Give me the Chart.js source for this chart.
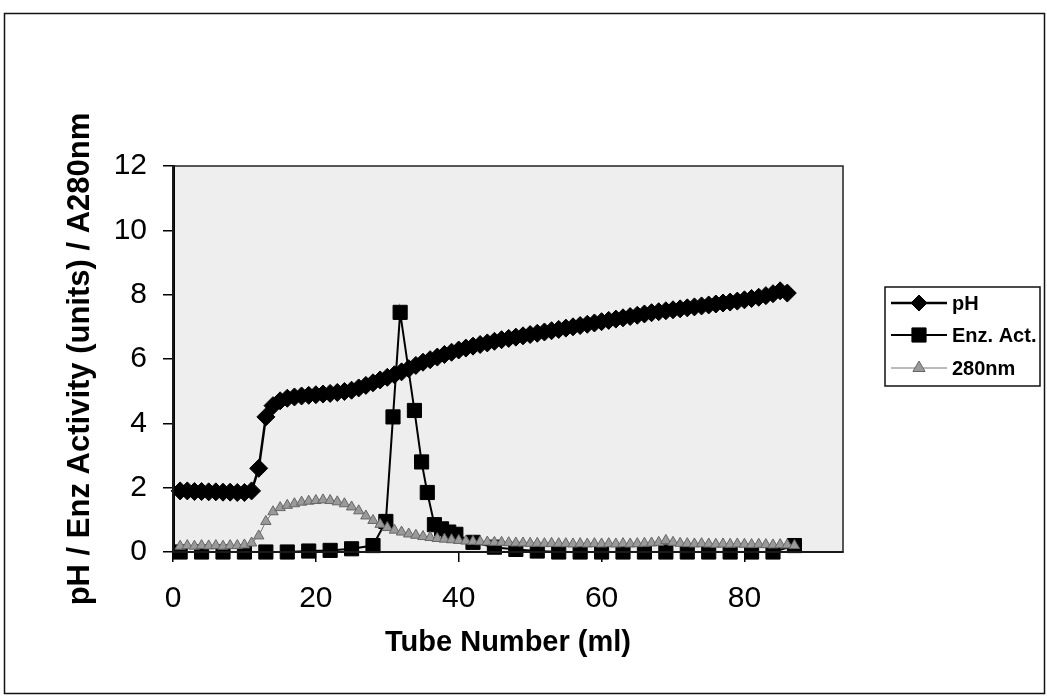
<!DOCTYPE html>
<html>
<head>
<meta charset="utf-8">
<script src="https://cdn.jsdelivr.net/npm/chart.js@4.4.1/dist/chart.umd.min.js"></script>
<style>
  html, body { margin: 0; padding: 0; background: #fff; }
  #wrap { width: 1047px; height: 696px; }
</style>
</head>
<body>
<div id="wrap"><canvas id="fractionChart" width="1047" height="696"></canvas></div>
<script>
// tube numbers and readings
var phTubes = [1,2,3,4,5,6,7,8,9,10,11,12,13,14,15,16,17,18,19,20,21,22,23,24,25,26,27,28,29,30,
  31,32,33,34,35,36,37,38,39,40,41,42,43,44,45,46,47,48,49,50,51,52,53,54,55,56,57,58,59,60,
  61,62,63,64,65,66,67,68,69,70,71,72,73,74,75,76,77,78,79,80,81,82,83,84,85,86];
var phValues = [1.9,1.9,1.88,1.88,1.87,1.87,1.86,1.86,1.85,1.85,1.9,2.6,4.2,4.55,4.7,4.78,4.82,4.85,4.87,4.89,
  4.91,4.93,4.96,4.99,5.03,5.1,5.18,5.26,5.35,5.43,5.51,5.6,5.7,5.8,5.9,5.98,6.06,6.14,6.21,6.28,
  6.34,6.4,6.45,6.5,6.55,6.6,6.64,6.68,6.72,6.76,6.8,6.84,6.88,6.92,6.96,7.0,7.04,7.08,7.12,7.16,
  7.2,7.24,7.28,7.32,7.36,7.4,7.44,7.47,7.5,7.53,7.56,7.59,7.62,7.65,7.68,7.71,7.74,7.77,7.8,7.84,
  7.88,7.92,7.97,8.03,8.12,8.05];

var enzTubes = [1,4,7,10,13,16,19,22,25,28,29.8,30.8,31.8,33.8,34.8,35.6,36.6,37.6,38.6,39.6,
  42,45,48,51,54,57,60,63,66,69,72,75,78,81,84,87];
var enzValues = [0,0,0,0,0,0,0.03,0.05,0.1,0.2,0.95,4.2,7.45,4.4,2.8,1.85,0.85,0.72,0.62,0.55,
  0.3,0.15,0.08,0.03,0,0,0,0,0,0,0,0,0,0,0,0.2];

var a280Tubes = [1,2,3,4,5,6,7,8,9,10,11,12,13,14,15,16,17,18,19,20,21,22,23,24,25,26,27,28,29,30,
  31,32,33,34,35,36,37,38,39,40,41,42,43,44,45,46,47,48,49,50,51,52,53,54,55,56,57,58,59,60,
  61,62,63,64,65,66,67,68,69,70,71,72,73,74,75,76,77,78,79,80,81,82,83,84,85,86,87];
var a280Values = [0.18,0.2,0.18,0.2,0.19,0.2,0.18,0.2,0.2,0.22,0.28,0.5,0.95,1.25,1.38,1.45,1.5,1.55,1.58,1.6,
  1.62,1.6,1.56,1.5,1.4,1.28,1.12,0.98,0.86,0.76,0.68,0.62,0.56,0.52,0.48,0.45,0.42,0.4,0.38,0.36,
  0.34,0.33,0.32,0.31,0.3,0.3,0.29,0.28,0.28,0.27,0.27,0.26,0.27,0.26,0.26,0.25,0.26,0.25,0.26,0.25,
  0.26,0.25,0.26,0.25,0.26,0.27,0.28,0.3,0.36,0.3,0.27,0.26,0.25,0.26,0.25,0.24,0.25,0.24,0.25,0.24,
  0.23,0.24,0.23,0.22,0.23,0.22,0.2];

var xTicks = [0, 20, 40, 60, 80];
var yTicks = [0, 2, 4, 6, 8, 10, 12];
var seriesNames = ['pH', 'Enz. Act.', '280nm'];

var fontFam = '"Liberation Sans", Arial, sans-serif';

function pairs(xs, ys) {
  return xs.map(function (x, i) { return { x: x, y: ys[i] }; });
}

function drawMarker(ctx, style, x, y, r, fill, stroke) {
  ctx.beginPath();
  if (style === 'rectRot') {
    ctx.moveTo(x - r, y); ctx.lineTo(x, y - r); ctx.lineTo(x + r, y); ctx.lineTo(x, y + r);
  } else if (style === 'rect') {
    var s = r * Math.SQRT1_2;
    ctx.rect(x - s, y - s, 2 * s, 2 * s);
  } else {
    ctx.moveTo(x, y - r); ctx.lineTo(x + r * 0.87, y + r * 0.5); ctx.lineTo(x - r * 0.87, y + r * 0.5);
  }
  ctx.closePath();
  ctx.fillStyle = fill; ctx.fill();
  ctx.lineWidth = 1; ctx.strokeStyle = stroke; ctx.stroke();
}

// plot background, frames and the legend box
var framePlugin = {
  id: 'frame',
  beforeDraw: function (chart) {
    var c = chart.ctx, a = chart.chartArea;
    c.save();
    c.fillStyle = '#fff';
    c.fillRect(0, 0, chart.width, chart.height);
    c.fillStyle = '#eeeeee';
    c.fillRect(a.left, a.top, a.right - a.left, a.bottom - a.top);
    c.restore();
  },
  afterDatasetsDraw: function (chart) {
    var c = chart.ctx, a = chart.chartArea;
    c.save();
    c.strokeStyle = '#222';
    c.lineWidth = 1.5;
    c.strokeRect(a.left, a.top, a.right - a.left, a.bottom - a.top);
    c.strokeStyle = '#111';
    c.strokeRect(4.5, 13.5, 1040, 680);
    c.restore();
  },
  afterDraw: function (chart) {
    var c = chart.ctx;
    var bx = 885, by = 287, bw = 155, bh = 99;
    var rows = [303, 335, 368];
    var styles = [['rectRot', 8, '#000', '#000', '#000', 2.5],
                  ['rect', 10, '#000', '#000', '#000', 2],
                  ['triangle', 7, '#9a9a9a', '#666', '#777', 1]];
    c.save();
    c.fillStyle = '#fff';
    c.fillRect(bx, by, bw, bh);
    c.strokeStyle = '#111';
    c.lineWidth = 1.5;
    c.strokeRect(bx, by, bw, bh);
    for (var i = 0; i < seriesNames.length; i++) {
      var st = styles[i];
      c.beginPath();
      c.moveTo(891, rows[i]); c.lineTo(947, rows[i]);
      c.strokeStyle = st[4]; c.lineWidth = st[5]; c.stroke();
      drawMarker(c, st[0], 919, rows[i], st[1], st[2], st[3]);
      c.fillStyle = '#000';
      c.font = 'bold 20px ' + fontFam;
      c.textBaseline = 'middle';
      c.fillText(seriesNames[i], 952, rows[i] + 1);
    }
    c.restore();
  }
};

var ctx = document.getElementById('fractionChart').getContext('2d');
var fractionChart = new Chart(ctx, {
  type: 'line',
  data: {
    datasets: [{
      label: seriesNames[0],
      data: pairs(phTubes, phValues),
      borderColor: '#000',
      backgroundColor: '#000',
      borderWidth: 2.5,
      pointStyle: 'rectRot',
      pointRadius: 9,
      pointBorderWidth: 1,
      clip: false,
      order: 1
    }, {
      label: seriesNames[1],
      data: pairs(enzTubes, enzValues),
      borderColor: '#000',
      backgroundColor: '#000',
      borderWidth: 2,
      pointStyle: 'rect',
      pointRadius: 10,
      pointBorderWidth: 1,
      clip: false,
      order: 3
    }, {
      label: seriesNames[2],
      data: pairs(a280Tubes, a280Values),
      borderColor: '#777',
      backgroundColor: '#9a9a9a',
      pointBorderColor: '#666',
      borderWidth: 1,
      pointStyle: 'triangle',
      pointRadius: 6,
      pointBorderWidth: 1,
      clip: false,
      order: 2
    }]
  },
  options: {
    responsive: false,
    animation: false,
    devicePixelRatio: 1,
    layout: { padding: { left: 10, right: 204, top: 166, bottom: 0 } },
    plugins: {
      legend: { display: false },
      tooltip: { enabled: false },
      title: { display: false }
    },
    scales: {
      x: {
        type: 'linear',
        min: 0,
        max: 93.8,
        afterBuildTicks: function (scale) {
          scale.ticks = xTicks.map(function (v) { return { value: v }; });
        },
        afterFit: function (scale) { scale.height = 144; },
        grid: { drawOnChartArea: false, drawTicks: true, tickLength: 10, color: '#000', lineWidth: 1.5 },
        border: { display: true, color: '#000', width: 2 },
        ticks: { color: '#000', padding: 19, font: { family: fontFam, size: 30 } },
        title: {
          display: true,
          text: 'Tube Number (ml)',
          color: '#000',
          font: { family: fontFam, size: 29, weight: 'bold' },
          padding: { top: 0, bottom: 36 }
        }
      },
      y: {
        type: 'linear',
        min: 0,
        max: 12,
        afterBuildTicks: function (scale) {
          scale.ticks = yTicks.map(function (v) { return { value: v }; });
        },
        afterFit: function (scale) { scale.width = 163; },
        grid: { drawOnChartArea: false, drawTicks: true, tickLength: 10, color: '#000', lineWidth: 1.5 },
        border: { display: true, color: '#000', width: 3 },
        ticks: { color: '#000', padding: 16, font: { family: fontFam, size: 30 } },
        title: {
          display: true,
          text: 'pH / Enz Activity (units) / A280nm',
          color: '#000',
          font: { family: fontFam, size: 31, weight: 'bold' },
          padding: { top: 52, bottom: 0 }
        }
      }
    }
  },
  plugins: [framePlugin]
});
</script>
</body>
</html>
